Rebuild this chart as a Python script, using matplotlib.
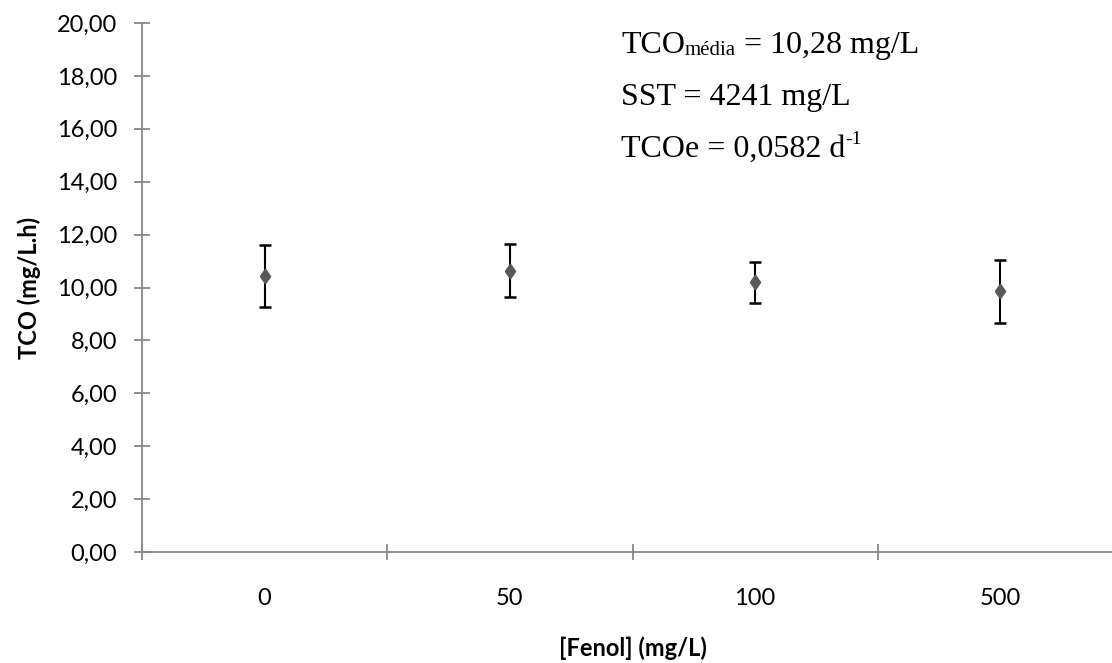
import matplotlib.pyplot as plt

# dados
fenol = ["0", "50", "100", "500"]
tco = [10.42, 10.64, 10.19, 9.85]
erro = [1.17, 1.01, 0.79, 1.20]
yticks = [0, 2, 4, 6, 8, 10, 12, 14, 16, 18, 20]

fig = plt.figure(figsize=(11.12, 6.63), dpi=100)
ax = fig.add_axes([142 / 1112, 111 / 663, 981 / 1112, 529 / 663])

x = range(len(fenol))
losango = [(-0.7, 0), (0, 1), (0.7, 0), (0, -1), (-0.7, 0)]
ax.errorbar(x, tco, yerr=erro, fmt="none", ecolor="black",
            elinewidth=1.5, capsize=4, capthick=1.8, zorder=2)
ax.plot(x, tco, linestyle="none", marker=losango, markersize=10.5,
        color="#595959", zorder=3)

ax.set_xlim(-0.5, 3.5)
ax.set_ylim(0, 20)
ax.set_yticks(yticks)
ax.set_yticklabels([f"{v:.2f}".replace(".", ",") for v in yticks])
ax.set_xticks([-0.5, 0.5, 1.5, 2.5])
ax.set_xticklabels([])
ax.set_xticks(list(x), minor=True)
ax.set_xticklabels(fenol, minor=True)

for s in ["top", "right"]:
    ax.spines[s].set_visible(False)
for s in ["left", "bottom"]:
    ax.spines[s].set_color("#878787")
    ax.spines[s].set_linewidth(1.3)

ax.tick_params(axis="y", direction="inout", length=12, width=1.3,
               color="#878787", labelsize=17, pad=12)
ax.tick_params(axis="x", which="major", direction="inout", length=12,
               width=1.3, color="#878787")
ax.tick_params(axis="x", which="minor", length=0, labelsize=17, pad=26)

for lbl in ax.get_xticklabels(minor=True) + ax.get_yticklabels():
    lbl.set_fontfamily("Lato")

ax.set_ylabel("TCO (mg/L.h)", fontsize=17, fontweight="bold",
              fontfamily="Lato", labelpad=11.5)
ax.set_xlabel("[Fenol] (mg/L)", fontsize=17, fontweight="bold",
              fontfamily="Lato", labelpad=20)

# caixa de texto (Times)
serif = "Liberation Serif"
x0 = 621 / 1112
linhas = [53, 105, 157]
yb = [1 - v / 663 for v in linhas]

t1 = fig.text(x0, yb[0], "TCO", fontsize=23, fontfamily=serif, va="baseline")
t1b = ax.annotate("média", xy=(1, yb[0] - 2 / 663), xycoords=(t1, "figure fraction"),
                  fontsize=15, fontfamily=serif, va="baseline", ha="left",
                  annotation_clip=False)
ax.annotate(" = 10,28 mg/L", xy=(1, yb[0]), xycoords=(t1b, "figure fraction"),
            fontsize=23, fontfamily=serif, va="baseline", ha="left",
            annotation_clip=False)

fig.text(x0, yb[1], "SST = 4241 mg/L", fontsize=23, fontfamily=serif, va="baseline")

t3 = fig.text(x0, yb[2], "TCOe = 0,0582 d", fontsize=23, fontfamily=serif, va="baseline")
ax.annotate("-1", xy=(1, yb[2] + 13 / 663), xycoords=(t3, "figure fraction"),
            fontsize=14, fontfamily=serif, va="baseline", ha="left",
            annotation_clip=False)

fig.savefig("out.png", dpi=100)
